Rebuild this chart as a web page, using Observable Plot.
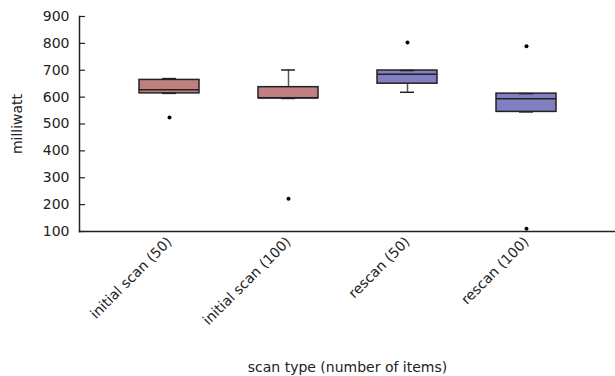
<!DOCTYPE html>
<html>
<head>
<meta charset="utf-8">
<script src="https://cdn.jsdelivr.net/npm/d3@7"></script>
<script src="https://cdn.jsdelivr.net/npm/@observablehq/plot@0.6"></script>
<style>
  html, body { margin: 0; padding: 0; background: #fff; }
  #chart svg { display: block; }
</style>
</head>
<body>
<div id="chart"></div>
<script>
// ---- data ----
const categories = ["initial scan (50)", "initial scan (100)", "rescan (50)", "rescan (100)"];
const groups = ["initial", "initial", "rescan", "rescan"];
const q1 = [614, 596, 650, 545];
const medians = [627, 597, 685, 594];
const q3 = [664, 637, 699, 613];
const whiskerLow = [614, 595, 618, 545];
const whiskerHigh = [669, 701, 699, 613];
const outlierCategories = ["initial scan (50)", "initial scan (100)", "rescan (50)", "rescan (100)", "rescan (100)"];
const outlierValues = [524, 222, 803, 789, 110];
const yTicks = [100, 200, 300, 400, 500, 600, 700, 800, 900];
const groupNames = ["initial", "rescan"];
const groupColors = ["#c08080", "#8080c0"];

const boxes = categories.map((c, i) => ({
  category: c, group: groups[i], q1: q1[i], median: medians[i], q3: q3[i],
  lo: whiskerLow[i], hi: whiskerHigh[i]
}));
const outliers = outlierCategories.map((c, i) => ({category: c, value: outlierValues[i]}));

const chart = Plot.plot({
  width: 615,
  height: 376,
  marginLeft: 79,
  marginRight: 0,
  marginTop: 16,
  marginBottom: 145,
  style: {fontFamily: "DejaVu Sans", fontSize: "14px", color: "#222", background: "#fff"},
  x: {type: "band", domain: categories, paddingInner: 0.5, paddingOuter: 0.49, label: null},
  y: {domain: [100, 900], label: null},
  color: {domain: groupNames, range: groupColors},
  marks: [
    Plot.ruleX(boxes, {x: "category", y1: "lo", y2: "hi", stroke: "#555", strokeWidth: 1.5}),
    Plot.barY(boxes, {x: "category", y1: "q1", y2: "q3", fill: "group", stroke: "#222", strokeWidth: 1.5}),
    Plot.tickY(boxes, {x: "category", y: "lo", insetLeft: 23, insetRight: 23, stroke: "#222", strokeWidth: 1.5}),
    Plot.tickY(boxes, {x: "category", y: "hi", insetLeft: 23, insetRight: 23, stroke: "#222", strokeWidth: 1.5}),
    Plot.tickY(boxes, {x: "category", y: "median", stroke: "#222", strokeWidth: 1.5}),
    Plot.dot(outliers, {x: "category", y: "value", r: 2, fill: "#000"}),
    Plot.frame({anchor: "left", stroke: "#222", strokeWidth: 1.5}),
    Plot.frame({anchor: "bottom", stroke: "#222", strokeWidth: 1.5}),
    Plot.axisY({ticks: yTicks, tickSize: 0, tickPadding: 10, label: null}),
    Plot.axisY({ticks: yTicks, tickSize: 6, dx: 6, fill: "none", stroke: "#222", strokeWidth: 1.2, label: null}),
    Plot.axisX({tickSize: 0, tickRotate: -45, tickPadding: 8, label: null}),
    Plot.text(["scan type (number of items)"], {frameAnchor: "bottom", dy: 136, lineAnchor: "middle", fill: "#222"}),
    Plot.text(["milliwatt"], {frameAnchor: "left", dx: -62, rotate: -90, textAnchor: "middle", fill: "#222"})
  ]
});
document.getElementById("chart").appendChild(chart);
</script>
</body>
</html>
